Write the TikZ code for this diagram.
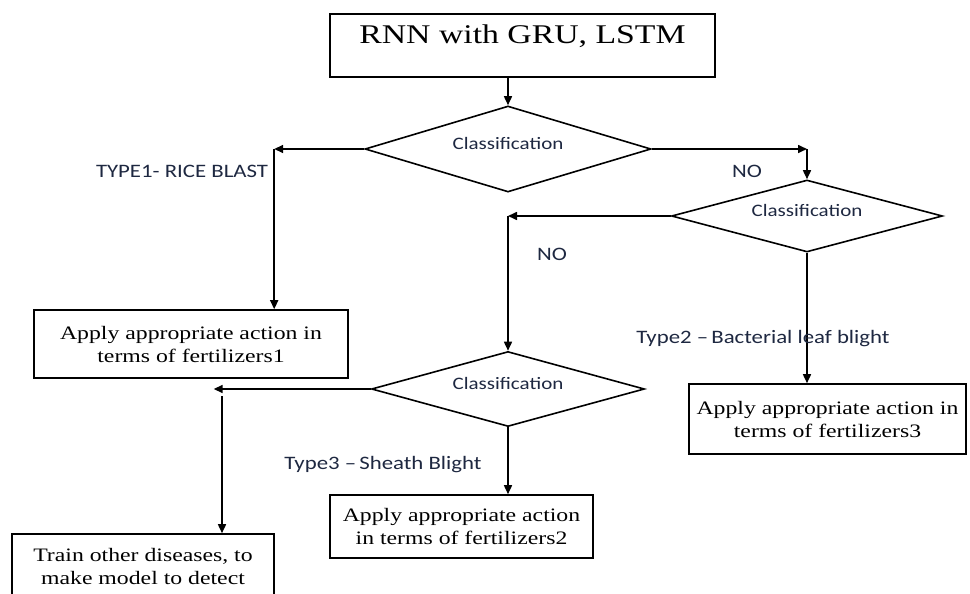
\documentclass[tikz,border=0pt]{standalone}
\usepackage{fontspec}
\usepackage{tikz}
\usetikzlibrary{shapes.geometric,arrows.meta}
\newfontfamily\boxfont[FakeStretch=1.25]{Liberation Serif}
\newfontfamily\labfont[FakeStretch=1.2]{Carlito}
\definecolor{labblue}{RGB}{30,40,65}

\begin{document}
\begin{tikzpicture}[x=1pt, y=-1pt, line width=1.6pt,
    arr/.style={-{Triangle[length=9pt,width=8pt]}},
    actbox/.style={draw, rectangle, align=center, inner sep=0pt, font=\boxfont\fontsize{19}{23}\selectfont},
    decide/.style={draw, diamond, aspect=3.6, inner sep=0pt, text height=12pt, text depth=12pt, text=labblue, font=\labfont\fontsize{17.5}{20}\selectfont},
    lab/.style={text=labblue, font=\labfont\fontsize{19}{22}\selectfont}]
    \path[use as bounding box, clip] (0,0) rectangle (970,594);

    \node[draw, minimum width=385pt, minimum height=63pt, text height=18pt, text depth=21pt, font=\boxfont\fontsize{27}{30}\selectfont] (net) at (522.5,45.5) {RNN with GRU, LSTM};

    \node[decide, minimum width=286pt, minimum height=86pt] (d1) at (508,149) {Classification};
    \node[decide, minimum width=271pt, minimum height=72pt] (d2) at (807,216) {Classification};
    \node[decide, minimum width=273pt, minimum height=75pt] (d3) at (508,389) {Classification};

    \node[actbox, minimum width=314pt, minimum height=68pt] (b1) at (191,344) {Apply appropriate action in\\terms of fertilizers1};
    \node[actbox, minimum width=277pt, minimum height=70pt] (b3) at (827.5,419) {Apply appropriate action in\\terms of fertilizers3};
    \node[actbox, minimum width=263pt, minimum height=63pt] (b2) at (461.5,526.5) {Apply appropriate action\\in terms of fertilizers2};
    \node[actbox, minimum width=262pt, minimum height=64pt] (b4) at (143,566) {Train other diseases, to\\make model to detect};

    \path (d1.west) ++(-90,0) coordinate (c1);
    \coordinate (c2) at (d2.north |- d1.east);
    \coordinate (c3) at (d3.north |- d2.west);
    \path (d3.west) ++(-157,0) coordinate (c4);
    \coordinate (c5) at (222,396);

    \draw[arr] (d1.north |- net.south) -- (d1.north);
    \draw[arr] (d1.west) -- (c1);
    \draw[arr] (c1) -- (c1 |- b1.north);
    \draw[arr] (d1.east) -- (c2);
    \draw[arr] (c2) -- (d2.north);
    \draw[arr] (d2.west) -- (c3);
    \draw[arr] (c3) -- (d3.north);
    \draw[arr] (d2.south) -- (d2.south |- b3.north);
    \draw[arr] (d3.west) -- (c4);
    \draw[arr] (c5) -- (c5 |- b4.north);
    \draw[arr] (d3.south) -- (d3.south |- b2.north);

    \node[lab] (l1) at (182,171) {TYPE1- RICE BLAST};
    \node[lab] (no1) at (747,171) {NO};
    \node[lab] (no2) at (552,254) {NO};
    \node[lab] (l2) at (763,339) {Type2 –\,Bacterial leaf blight};
    \node[lab] (l3) at (383,465) {Type3 –\,Sheath Blight};
\end{tikzpicture}
\end{document}
